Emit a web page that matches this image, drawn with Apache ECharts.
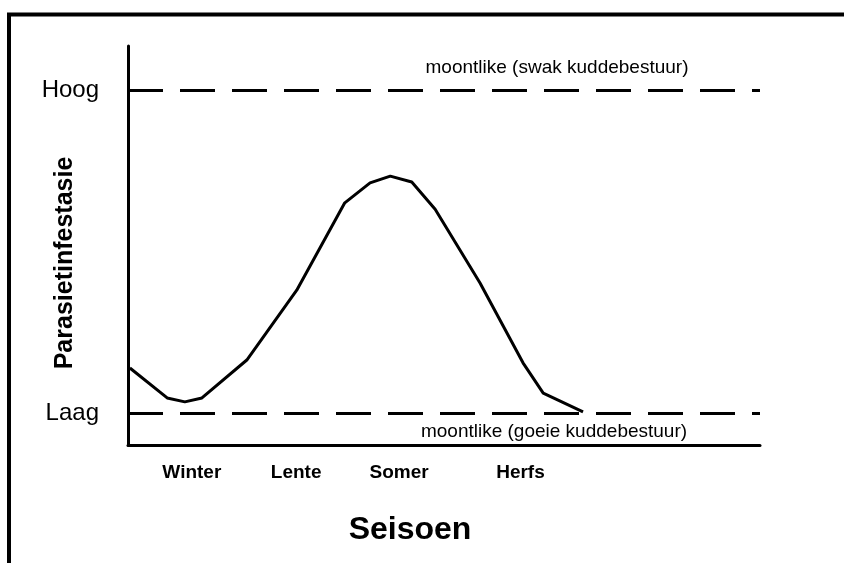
<!DOCTYPE html>
<html>
<head>
<meta charset="utf-8">
<script src="https://cdn.jsdelivr.net/npm/echarts@6/dist/echarts.min.js"></script>
<style>
  html, body { margin: 0; padding: 0; background: #fff; }
  #main { width: 844px; height: 563px; }
</style>
</head>
<body>
<div id="main"></div>
<script>
// seisoen (0-100 along the x axis) and infestasie (0-100 up the y axis)
var curveX = [0.3, 6.2, 9.0, 11.7, 18.8, 26.7, 34.3, 38.3, 41.5, 44.9, 48.6, 55.7, 62.5, 65.7, 72.0]
var curveY = [19.3, 11.8, 10.8, 11.8, 21.3, 38.8, 60.7, 65.7, 67.4, 65.9, 59.1, 40.6, 20.6, 13.0, 8.3]
var seasonPos = [10.1, 26.6, 42.9, 62.1]
var seasonNames = ['Winter', 'Lente', 'Somer', 'Herfs']
var levelPos = [7.9, 89]
var levelNames = ['Laag', 'Hoog']

var font = "'Liberation Sans', Arial, sans-serif"

var chart = echarts.init(document.getElementById('main'))

var points = curveX.map(function (x, i) { return [x, curveY[i]] })

var option = {
  backgroundColor: '#fff',
  animation: false,
  grid: { left: 128, right: 84, top: 46, bottom: 118 },
  xAxis: {
    type: 'value',
    min: 0,
    max: 100,
    splitLine: { show: false },
    axisTick: { show: false },
    axisLine: { lineStyle: { color: '#000', width: 3 } },
    axisLabel: {
      customValues: seasonPos,
      margin: 18,
      fontFamily: font,
      fontWeight: 'bold',
      fontSize: 19,
      color: '#000',
      formatter: function (v) {
        var i = seasonPos.indexOf(v)
        return i >= 0 ? seasonNames[i] : ''
      }
    }
  },
  yAxis: {
    type: 'value',
    min: 0,
    max: 100,
    splitLine: { show: false },
    axisTick: { show: false },
    axisLine: { lineStyle: { color: '#000', width: 3 } },
    axisLabel: {
      customValues: levelPos,
      margin: 29,
      fontFamily: font,
      fontSize: 24,
      color: '#000',
      formatter: function (v) {
        var i = levelPos.indexOf(v)
        return i >= 0 ? levelNames[i] : ''
      }
    }
  },
  series: [
    {
      type: 'line',
      data: points,
      symbol: 'none',
      smooth: false,
      lineStyle: { color: '#000', width: 3 },
      markLine: {
        silent: true,
        symbol: 'none',
        label: { show: false },
        lineStyle: { color: '#000', width: 3, type: [35, 17] },
        data: levelPos.map(function (v) { return { yAxis: v } })
      }
    }
  ],
  graphic: [
    // frame
    {
      type: 'polyline',
      shape: { points: [[9, 563], [9, 14.5], [844, 14.5]] },
      style: { stroke: '#000', lineWidth: 4, fill: null }
    },
    {
      type: 'text',
      x: 65, y: 263,
      rotation: Math.PI / 2,
      style: {
        text: 'Parasietinfestasie',
        font: 'bold 25px ' + font,
        fill: '#000',
        align: 'center',
        verticalAlign: 'middle'
      }
    },
    {
      type: 'text',
      x: 410, y: 530,
      style: {
        text: 'Seisoen',
        font: 'bold 32px ' + font,
        fill: '#000',
        align: 'center',
        verticalAlign: 'middle'
      }
    },
    {
      type: 'text',
      x: 557, y: 68,
      style: {
        text: 'moontlike (swak kuddebestuur)',
        font: '19px ' + font,
        fill: '#000',
        align: 'center',
        verticalAlign: 'middle'
      }
    },
    {
      type: 'text',
      x: 554, y: 432,
      style: {
        text: 'moontlike (goeie kuddebestuur)',
        font: '19px ' + font,
        fill: '#000',
        align: 'center',
        verticalAlign: 'middle'
      }
    }
  ]
}

chart.setOption(option)
</script>
</body>
</html>
